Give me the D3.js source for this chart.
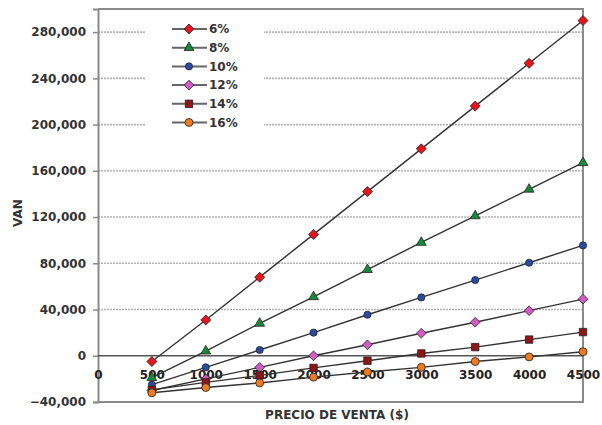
<!DOCTYPE html>
<html>
<head>
<meta charset="utf-8">
<script src="https://cdn.jsdelivr.net/npm/d3@7"></script>
<style>
  html, body { margin: 0; padding: 0; background: #fff; }
  svg { display: block; font-family: "DejaVu Sans", Verdana, sans-serif; }
</style>
</head>
<body>
<svg id="chart" width="602" height="425"></svg>
<script>
// Precio de venta ($)
const precios = [500, 1000, 1500, 2000, 2500, 3000, 3500, 4000, 4500];
const xTicks = [0, 500, 1000, 1500, 2000, 2500, 3000, 3500, 4000, 4500];
const yTicks = [-40000, 0, 40000, 80000, 120000, 160000, 200000, 240000, 280000];

// VAN por tasa de descuento
const tasas = ["6%", "8%", "10%", "12%", "14%", "16%"];
const van6  = [-5000, 31000, 68000, 105000, 142000, 179000, 216000, 253000, 290000];
const van8  = [-19000, 4000, 28000, 51000, 74500, 98000, 121000, 144000, 167000];
const van10 = [-25000, -10000, 5000, 20000, 35500, 50500, 65500, 80500, 95500];
const van12 = [-30000, -20000, -10000, 0, 9500, 19500, 29000, 39000, 49000];
const van14 = [-29500, -23000, -17000, -10500, -4300, 2000, 7500, 14000, 20500];
const van16 = [-32000, -27500, -23500, -18500, -14000, -10000, -5000, -1000, 3500];

const seriesValues = [van6, van8, van10, van12, van14, van16];
const colors = ["#e8141c", "#168a3a", "#2a4aa6", "#d25cc4", "#8e1616", "#f07a1e"];
const shapes = [d3.symbolDiamond2, d3.symbolTriangle, d3.symbolCircle, d3.symbolDiamond2, d3.symbolSquare, d3.symbolCircle];
const sizes = [64, 42, 40, 60, 55, 50];

const svg = d3.select("#chart");
const plot = { left: 98, right: 583, top: 9, bottom: 402 };

const x = d3.scaleLinear().domain([0, 4500]).range([plot.left, plot.right]);
const y = d3.scaleLinear().domain([-40000, 300000]).range([plot.bottom, plot.top]);

// Horizontal dotted grid
svg.append("g")
  .selectAll("line")
  .data(yTicks.filter(v => v !== 0 && v !== -40000))
  .join("line")
  .attr("x1", plot.left).attr("x2", plot.right)
  .attr("y1", d => y(d)).attr("y2", d => y(d))
  .attr("stroke", "#b4b4b4")
  .attr("stroke-width", 1.6)
  .attr("stroke-dasharray", "2,1");

// Frame: top, right, bottom
svg.append("path")
  .attr("d", `M${plot.left},${plot.top}H${plot.right}V${plot.bottom}H${plot.left}`)
  .attr("fill", "none")
  .attr("stroke", "#8a8a8a")
  .attr("stroke-width", 2);

// Y axis
const yAxis = d3.axisLeft(y)
  .tickValues(yTicks)
  .tickSize(5)
  .tickPadding(7)
  .tickFormat(d3.format(","));
const gy = svg.append("g").attr("transform", `translate(${plot.left},0)`).call(yAxis);
gy.select(".domain").attr("stroke", "#8a8a8a").attr("stroke-width", 2);
gy.selectAll(".tick line").attr("stroke", "#8a8a8a").attr("stroke-width", 1.5);
gy.selectAll(".tick text")
  .attr("font-family", "DejaVu Sans")
  .attr("font-size", 12).attr("font-weight", "bold").attr("fill", "#333");

// Zero line with x axis labels just below it
svg.append("line")
  .attr("x1", plot.left).attr("x2", plot.right)
  .attr("y1", y(0)).attr("y2", y(0))
  .attr("stroke", "#555").attr("stroke-width", 1.6);

const xAxis = d3.axisBottom(x)
  .tickValues(xTicks)
  .tickSize(0)
  .tickPadding(15)
  .tickFormat(d3.format("d"));
const gx = svg.append("g").attr("transform", `translate(0,${y(0)})`).call(xAxis);
gx.select(".domain").remove();
gx.selectAll(".tick text")
  .attr("font-family", "DejaVu Sans")
  .attr("font-size", 12).attr("font-weight", "bold").attr("fill", "#222");

// Series lines and markers
const line = d3.line().x((d, i) => x(precios[i])).y(d => y(d));
seriesValues.forEach((vals) => {
  svg.append("path")
    .datum(vals)
    .attr("d", line)
    .attr("fill", "none")
    .attr("stroke", "#333")
    .attr("stroke-width", 1.4);
});
seriesValues.forEach((vals, s) => {
  svg.append("g")
    .selectAll("path")
    .data(vals)
    .join("path")
    .attr("transform", (d, i) => `translate(${x(precios[i])},${y(d)})`)
    .attr("d", d3.symbol().type(shapes[s]).size(sizes[s]))
    .attr("fill", colors[s])
    .attr("stroke", "#222")
    .attr("stroke-width", 0.8);
});

// Legend
const legend = svg.append("g");
legend.append("rect")
  .attr("x", 146).attr("y", 16).attr("width", 118).attr("height", 118)
  .attr("fill", "#fff");
tasas.forEach((t, i) => {
  const ly = 29 + i * 18.7;
  legend.append("line")
    .attr("x1", 172).attr("x2", 207).attr("y1", ly).attr("y2", ly)
    .attr("stroke", "#666").attr("stroke-width", 2);
  legend.append("path")
    .attr("transform", `translate(189,${ly})`)
    .attr("d", d3.symbol().type(shapes[i]).size(sizes[i]))
    .attr("fill", colors[i]).attr("stroke", "#222").attr("stroke-width", 0.8);
  legend.append("text")
    .attr("x", 209).attr("y", ly).attr("dy", "0.35em")
    .attr("font-size", 12).attr("font-weight", "bold").attr("fill", "#333")
    .text(t);
});

// Axis titles
svg.append("text")
  .attr("transform", "translate(22,213) rotate(-90)")
  .attr("text-anchor", "middle")
  .attr("font-size", 12).attr("font-weight", "bold").attr("fill", "#333")
  .text("VAN");
svg.append("text")
  .attr("x", 337).attr("y", 415).attr("dy", "0.35em")
  .attr("text-anchor", "middle")
  .attr("font-size", 12).attr("font-weight", "bold").attr("fill", "#333")
  .text("PRECIO DE VENTA ($)");
</script>
</body>
</html>
